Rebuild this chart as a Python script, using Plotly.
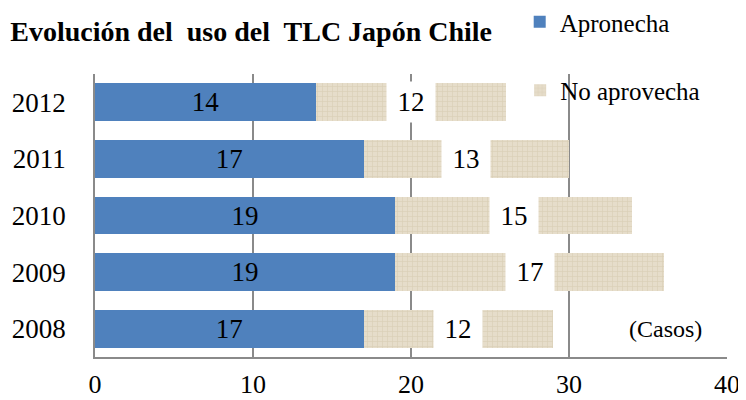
import plotly.graph_objects as go

years = [2008, 2009, 2010, 2011, 2012]
aprovecha = [17, 19, 19, 17, 14]
no_aprovecha = [12, 17, 15, 13, 12]
x_ticks = [0, 10, 20, 30, 40]

SERIF = "Liberation Serif, Times New Roman, serif"
BLUE = "#4F81BD"
BEIGE = "#E4DBC7"

fig = go.Figure()
fig.add_trace(go.Bar(
    y=years, x=aprovecha, orientation="h", name="Apronecha",
    marker=dict(color=BLUE, line=dict(width=0)),
    text=[str(v) for v in aprovecha], textposition="inside",
    insidetextanchor="middle", textangle=0,
    textfont=dict(family=SERIF, size=27, color="black"),
    legend="legend",
))
fig.add_trace(go.Bar(
    y=years, x=no_aprovecha, orientation="h", name="No aprovecha",
    marker=dict(color=BEIGE, line=dict(width=0),
                pattern=dict(shape="+", bgcolor="#E6DDCA", fgcolor="#D9CFB7",
                             size=5, solidity=0.25, fillmode="replace")),
    legend="legend2",
))

for y, a, n in zip(years, aprovecha, no_aprovecha):
    fig.add_annotation(
        x=a + n / 2, y=y, xref="x", yref="y", text=str(n), showarrow=False,
        font=dict(family=SERIF, size=27, color="black"),
        bgcolor="white", width=46, height=38, align="center", valign="middle",
    )

fig.add_annotation(x=36.1, y=2008, xref="x", yref="y", text="(Casos)",
                   showarrow=False, font=dict(family=SERIF, size=24, color="black"))

# The page body adds an 8px offset, so the figure is 738x392 with margins adjusted
fig.update_layout(
    width=738, height=392,
    margin=dict(l=87, r=19, t=66, b=43, autoexpand=False),
    paper_bgcolor="white", plot_bgcolor="white",
    barmode="stack", bargap=0.33,
    title=dict(text="<b>Evolución del  uso del  TLC Japón Chile</b>",
               x=0.003, xanchor="left", y=0.941, yanchor="middle",
               font=dict(family=SERIF, size=28, color="black")),
    showlegend=True,
    legend=dict(x=0.672, y=1.265, xref="paper", yref="paper",
                xanchor="left", yanchor="top",
                font=dict(family=SERIF, size=25, color="black"),
                bgcolor="rgba(0,0,0,0)", itemwidth=30),
    legend2=dict(x=0.694, y=0.848, xref="container", yref="container",
                 xanchor="left", yanchor="top",
                 font=dict(family=SERIF, size=25, color="black"),
                 bgcolor="rgba(0,0,0,0)", itemwidth=30),
    xaxis=dict(range=[0, 40], tickvals=x_ticks, showgrid=True, gridcolor="#8A8A8A",
               gridwidth=1.5, zeroline=False, showline=True, linecolor="#8A8A8A",
               linewidth=1.5, ticks="", ticklabelstandoff=3, automargin=False,
               tickfont=dict(family=SERIF, size=26, color="black")),
    yaxis=dict(range=[2007.5, 2012.5], tickvals=years, ticktext=[str(y) for y in years],
               showgrid=False, zeroline=False,
               showline=True, linecolor="#8A8A8A", linewidth=1.5, ticks="",
               ticklabelstandoff=22, automargin=False,
               tickfont=dict(family=SERIF, size=27, color="black")),
)

fig.write_html("out.html")
